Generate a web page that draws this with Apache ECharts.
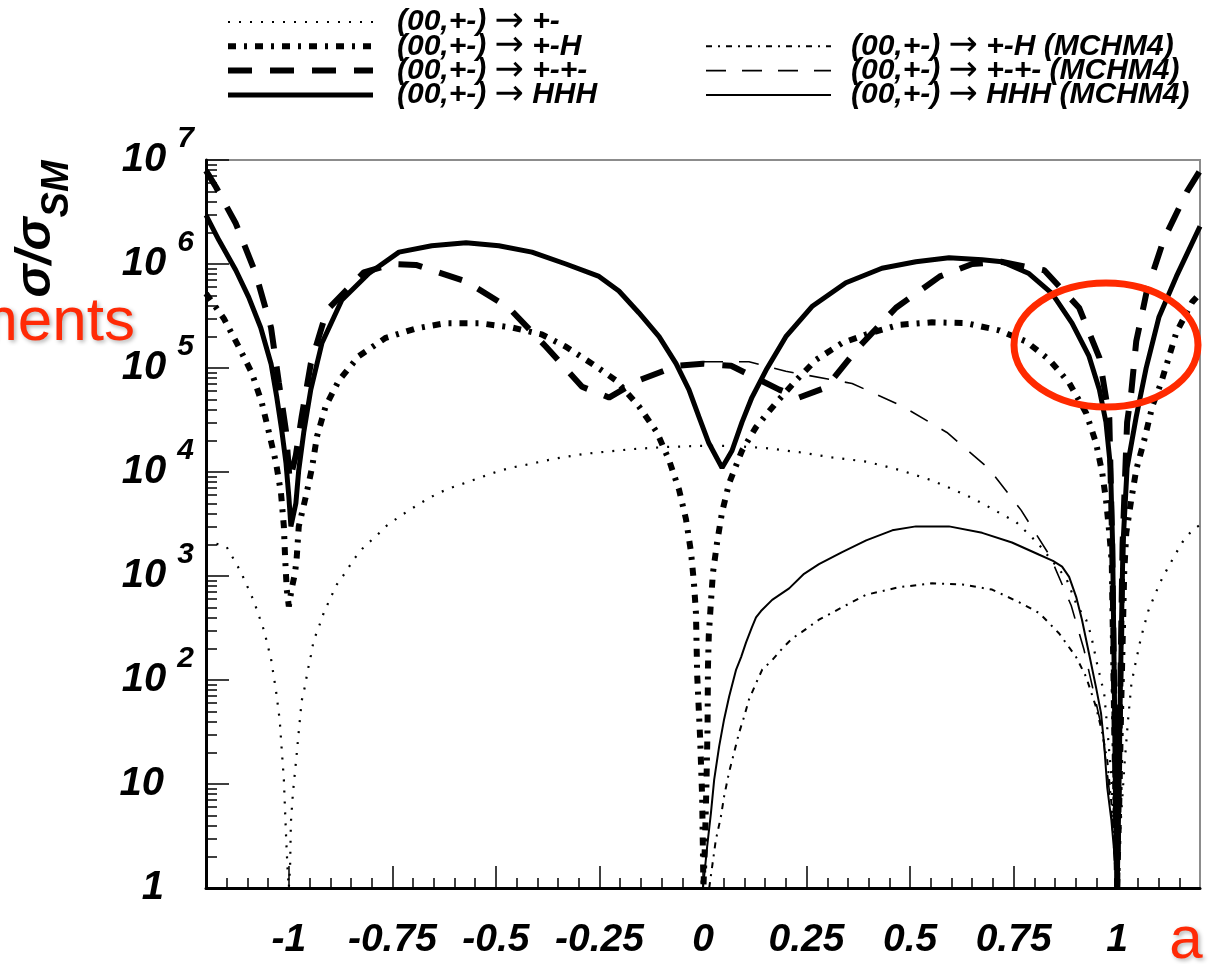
<!DOCTYPE html>
<html>
<head>
<meta charset="utf-8">
<script src="https://cdn.jsdelivr.net/npm/echarts@6/dist/echarts.min.js"></script>
<style>
  html, body { margin: 0; padding: 0; background: #fff; }
  #chart { width: 1212px; height: 964px; }
</style>
</head>
<body>
<div id="chart"></div>
<script>
// series names (legend order)
var names = [
  '(00,+-) → +-',
  '(00,+-) → +-H',
  '(00,+-) → +-+-',
  '(00,+-) → HHH',
  '(00,+-) → +-H (MCHM4)',
  '(00,+-) → +-+- (MCHM4)',
  '(00,+-) → HHH (MCHM4)'
];

// (00,+-) -> +-
var xPM = [-1.2, -1.15, -1.116, -1.085, -1.06, -1.043, -1.031, -1.022, -1.017, -1.012, -1.009, -1.006, -1.003, -1.0,
  -0.997, -0.995, -0.99, -0.983, -0.976, -0.969, -0.961, -0.955, -0.947, -0.94, -0.928, -0.915, -0.899, -0.884,
  -0.862, -0.843, -0.819, -0.79, -0.766, -0.734, -0.705, -0.669, -0.638, -0.606, -0.572, -0.536, -0.5, -0.464,
  -0.428, -0.355, -0.283, -0.21, -0.171, -0.089, -0.01, 0.07, 0.152, 0.232, 0.312, 0.394, 0.473, 0.553, 0.635,
  0.674, 0.756, 0.807, 0.877, 0.903, 0.925, 0.937, 0.952, 0.961, 0.969, 0.976, 0.985, 0.993, 1.0, 1.008, 1.018,
  1.026, 1.034, 1.041, 1.048, 1.056, 1.065, 1.075, 1.089, 1.104, 1.121, 1.138, 1.157, 1.181, 1.2];
var yPM = [2.2e3, 1.9e3, 1.1e3, 5.8e2, 3.0e2, 1.6e2, 79, 41, 21, 11, 5.4, 2.7, 1.5, 1.0,
  1.6, 4.3, 8.3, 16, 32, 63, 87, 120, 170, 240, 320, 450, 620, 830,
  1.1e3, 1.45e3, 1.9e3, 2.4e3, 3.0e3, 3.7e3, 4.4e3, 5.4e3, 6.3e3, 7.1e3, 7.9e3, 8.9e3, 1.0e4, 1.1e4,
  1.17e4, 1.35e4, 1.5e4, 1.6e4, 1.66e4, 1.74e4, 1.78e4, 1.78e4, 1.7e4, 1.55e4, 1.38e4, 1.26e4, 1.05e4, 8.3e3, 6.0e3,
  5.0e3, 3.3e3, 2.1e3, 950, 520, 380, 270, 140, 100, 72, 35, 13, 3.2, 1.0, 4, 16,
  40, 89, 126, 170, 240, 330, 460, 630, 870, 1.17e3, 1.55e3, 2.1e3, 2.75e3, 3.1e3];

// (00,+-) -> +-H
var xPMH = [-1.2, -1.157, -1.121, -1.089, -1.065, -1.048, -1.031, -1.019, -1.012, -1.009, -1.005, -1.0,
  -0.993, -0.985, -0.981, -0.976, -0.959, -0.944, -0.932, -0.911, -0.879, -0.831, -0.766, -0.693, -0.621,
  -0.541, -0.461, -0.389, -0.331, -0.268, -0.21, -0.155, -0.111, -0.082, -0.058, -0.041, -0.029, -0.022,
  -0.017, -0.014, -0.007, -0.002, 0.001, 0.004, 0.008, 0.011, 0.012, 0.014, 0.019, 0.024, 0.034, 0.046,
  0.063, 0.094, 0.128, 0.176, 0.225, 0.273, 0.336, 0.394, 0.473, 0.553, 0.635, 0.715, 0.78, 0.836, 0.884,
  0.925, 0.949, 0.964, 0.973, 0.981, 0.987, 0.992, 0.996, 1.0, 1.005, 1.01, 1.017, 1.022, 1.034, 1.046,
  1.065, 1.085, 1.106, 1.143, 1.181, 1.2];
var yPMH = [5.2e5, 3.0e5, 1.6e5, 8.9e4, 4.6e4, 2.4e4, 1.23e4, 6.3e3, 3.0e3, 1.5e3, 740, 510,
  760, 1.07e3, 1.5e3, 3.0e3, 5.8e3, 1.1e4, 2.2e4, 4.3e4, 7.6e4, 1.3e5, 1.95e5, 2.4e5, 2.7e5,
  2.7e5, 2.45e5, 2.1e5, 1.6e5, 1.1e5, 7.6e4, 4.3e4, 2.4e4, 1.3e4, 6.8e3, 3.5e3, 1.7e3, 870,
  440, 110, 28, 7.4, 1.0, 2.2, 8.7, 35, 135, 270, 550, 1.07e3, 2.1e3, 4.1e3,
  7.8e3, 1.6e4, 2.7e4, 4.6e4, 7.6e4, 1.2e5, 1.74e5, 2.1e5, 2.6e5, 2.75e5, 2.7e5, 2.3e5, 1.8e5, 1.2e5, 7.2e4,
  3.7e4, 1.9e4, 9.8e3, 5.4e3, 2.6e3, 1.35e3, 63, 6.3, 1.0, 6.3, 63, 1.07e3, 2.6e3, 5.4e3, 1.05e4,
  2.0e4, 4.3e4, 7.2e4, 2.2e5, 4.3e5, 5.2e5];

// (00,+-) -> +-+-
var xPMPM = [-1.2, -1.176, -1.128, -1.08, -1.043, -1.024, -1.007, -0.998, -0.983, -0.969, -0.947, -0.908,
  -0.819, -0.75, -0.693, -0.572, -0.469, -0.379, -0.292, -0.227, -0.155, -0.063, 0.0, 0.068, 0.184, 0.232,
  0.297, 0.377, 0.466, 0.572, 0.65, 0.72, 0.824, 0.908, 0.957, 0.981, 0.988, 0.994, 1.0, 1.006, 1.013,
  1.024, 1.034, 1.046, 1.072, 1.113, 1.169, 1.2];
var yPMPM = [7.9e6, 5.5e6, 2.45e6, 8.1e5, 2.45e5, 7.2e4, 2.5e4, 8.3e3, 1.45e4, 3.4e4, 1.1e5, 3.6e5,
  8.3e5, 1.0e6, 9.8e5, 6.8e5, 3.8e5, 1.6e5, 6.6e4, 5.2e4, 7.6e4, 1.05e5, 1.1e5, 1.05e5, 6.2e4, 5.2e4,
  6.5e4, 1.6e5, 3.8e5, 7.6e5, 1.0e6, 1.05e6, 8.7e5, 3.8e5, 1.26e5, 3.3e4, 2.0e3, 32, 1.0, 32, 2.0e3,
  3.0e4, 5.8e4, 1.8e5, 5.6e5, 1.74e6, 5.0e6, 7.9e6];

// (00,+-) -> HHH
var xHHH = [-1.2, -1.169, -1.128, -1.097, -1.068, -1.043, -1.029, -1.017, -1.007, -1.0, -0.995, -0.983,
  -0.976, -0.964, -0.947, -0.92, -0.872, -0.807, -0.734, -0.655, -0.572, -0.493, -0.413, -0.331, -0.251,
  -0.203, -0.155, -0.106, -0.065, -0.034, -0.01, 0.014, 0.046, 0.07, 0.094, 0.118, 0.152, 0.2, 0.263,
  0.345, 0.432, 0.514, 0.594, 0.674, 0.722, 0.787, 0.843, 0.891, 0.932, 0.957, 0.973, 0.984, 0.989,
  0.993, 0.996, 1.0, 1.004, 1.008, 1.014, 1.024, 1.046, 1.07, 1.101, 1.143, 1.2];
var yHHH = [2.95e6, 1.7e6, 8.7e5, 4.8e5, 2.45e5, 1.1e5, 5.2e4, 2.5e4, 1.23e4, 5.8e3, 3.0e3, 5.0e3,
  1.05e4, 2.4e4, 6.2e4, 1.74e5, 4.5e5, 8.1e5, 1.3e6, 1.5e6, 1.6e6, 1.5e6, 1.3e6, 1.0e6, 7.6e5,
  5.5e5, 3.4e5, 2.0e5, 1.1e5, 6.2e4, 3.4e4, 1.9e4, 1.1e4, 1.6e4, 3.0e4, 5.2e4, 9.5e4, 2.0e5, 3.9e5,
  6.6e5, 9.1e5, 1.05e6, 1.15e6, 1.1e6, 1.05e6, 8.1e5, 5.2e5, 2.7e5, 1.3e5, 6.2e4, 3.0e4, 1.1e4, 2.0e3,
  100, 7, 1.0, 7, 100, 2.0e3, 1.1e4, 3.4e4, 1.0e5, 3.1e5, 7.6e5, 2.3e6];

// (00,+-) -> +-H (MCHM4)
var xPMH4 = [0.015, 0.022, 0.031, 0.043, 0.051, 0.063, 0.075, 0.087, 0.099, 0.111, 0.128, 0.143, 0.167,
  0.191, 0.215, 0.239, 0.28, 0.336, 0.394, 0.473, 0.553, 0.626, 0.698, 0.763, 0.812, 0.86, 0.901, 0.925,
  0.949, 0.964, 0.976, 0.99, 0.998];
var yPMH4 = [1.0, 1.6, 2.9, 4.8, 7.6, 13, 20, 31, 44, 65, 93, 126, 155,
  200, 250, 290, 380, 500, 660, 780, 850, 830, 740, 560, 440, 280, 166, 107,
  55, 31, 17, 4.5, 1.0];

// (00,+-) -> +-+- (MCHM4)
var xPMPM4 = [0.0, 0.111, 0.2, 0.36, 0.481, 0.589, 0.691, 0.768, 0.838, 0.889, 0.92, 0.964, 0.985, 0.998];
var yPMPM4 = [1.15e5, 1.15e5, 9.3e4, 7.1e4, 4.3e4, 2.4e4, 1.07e4, 4.3e3, 1.55e3, 520, 195, 33, 6.3, 1.0];

// (00,+-) -> HHH (MCHM4)
var xHHH4 = [0.0, 0.01, 0.019, 0.027, 0.039, 0.051, 0.063, 0.08, 0.092, 0.104, 0.118, 0.128, 0.14, 0.167,
  0.208, 0.244, 0.28, 0.336, 0.394, 0.457, 0.514, 0.594, 0.674, 0.746, 0.812, 0.845, 0.867, 0.884, 0.901,
  0.915, 0.932, 0.949, 0.961, 0.969, 0.976, 0.986, 0.993, 1.0];
var yHHH4 = [1.0, 2.5, 5.2, 11, 23, 42, 69, 126, 166, 230, 320, 400, 460, 590,
  760, 1.05e3, 1.3e3, 1.7e3, 2.2e3, 2.75e3, 3.0e3, 3.0e3, 2.6e3, 2.1e3, 1.6e3, 1.4e3, 1.23e3, 980, 630,
  380, 180, 85, 48, 23, 9.3, 4.5, 2.2, 1.0];

// axis ticks
var xLabels = [-1, -0.75, -0.5, -0.25, 0, 0.25, 0.5, 0.75, 1];
var yMajor = [1, 10, 100, 1e3, 1e4, 1e5, 1e6, 1e7];

var xMinor = [];
for (var i = -23; i <= 23; i++) xMinor.push(Math.round(i * 5) / 100);
var yMinor = [];
for (var k = 0; k < 7; k++) {
  for (var m = 2; m <= 9; m++) yMinor.push(m * Math.pow(10, k));
}

function zip(xs, ys) {
  return xs.map(function (x, i) { return [x, ys[i]]; });
}

var seriesX = [xPM, xPMH, xPMPM, xHHH, xPMH4, xPMPM4, xHHH4];
var seriesY = [yPM, yPMH, yPMPM, yHHH, yPMH4, yPMPM4, yHHH4];
var styles = [
  { width: 2.2, type: [2, 9] },
  { width: 6, type: [8, 8, 3, 8] },
  { width: 6, type: [24, 18] },
  { width: 5, type: 'solid' },
  { width: 2, type: [6, 6, 2, 6] },
  { width: 1.6, type: [20, 16] },
  { width: 2, type: 'solid' }
];

var FONT = 'Liberation Sans';

var chart = echarts.init(document.getElementById('chart'), null, { renderer: 'canvas' });

var series = names.map(function (n, i) {
  return {
    name: n,
    type: 'line',
    symbol: 'none',
    clip: true,
    data: zip(seriesX[i], seriesY[i]),
    lineStyle: { color: '#000', width: styles[i].width, type: styles[i].type, cap: 'butt' },
    itemStyle: { color: '#000' },
    z: 3
  };
});

function legendItem(n, i) {
  return {
    name: n,
    lineStyle: { width: styles[i].width, type: styles[i].type, color: '#000' },
    itemStyle: { color: 'rgba(0,0,0,0)', borderWidth: 0, opacity: 0 }
  };
}

function legendLabel(n) {
  var parts = n.split(' → ');
  return '{t|' + parts[0] + ' }{a|→}{t| ' + parts[1] + '}';
}

var legendRich = {
  t: { fontFamily: FONT, fontWeight: 'bold', fontStyle: 'italic', fontSize: 30, color: '#000', lineHeight: 24 },
  a: { fontFamily: 'DejaVu Sans', fontWeight: 'normal', fontSize: 35, color: '#000', lineHeight: 24 }
};

var option = {
  animation: false,
  backgroundColor: '#fff',
  grid: {
    left: 206, right: 12, top: 160, bottom: 76,
    show: true, borderColor: '#8c8c8c', borderWidth: 2
  },
  legend: [{
    orient: 'vertical', left: 225, top: 4.5, padding: 0, itemGap: -10.7,
    itemWidth: 145, itemHeight: 14, selectedMode: false,
    data: names.slice(0, 4).map(function (n, i) { return legendItem(n, i); }),
    formatter: legendLabel,
    textStyle: { padding: [0, 0, 0, 19], lineHeight: 24, rich: legendRich }
  }, {
    orient: 'vertical', left: 705, top: 28.8, padding: 0, itemGap: -10.7,
    itemWidth: 125, itemHeight: 14, selectedMode: false,
    data: names.slice(4).map(function (n, i) { return legendItem(n, i + 4); }),
    formatter: legendLabel,
    textStyle: { padding: [0, 0, 0, 15], lineHeight: 24, rich: legendRich }
  }],
  xAxis: [{
    type: 'value', min: -1.2, max: 1.2,
    axisLine: { show: true, onZero: false, lineStyle: { color: '#000', width: 3 } },
    axisTick: { show: true, inside: true, length: 22, customValues: xLabels, lineStyle: { color: '#000', width: 1.5 } },
    splitLine: { show: false },
    axisLabel: {
      customValues: xLabels, margin: 33,
      fontFamily: FONT, fontWeight: 'bold', fontStyle: 'italic', fontSize: 39, color: '#000',
      formatter: function (v) { return String(v); }
    }
  }, {
    type: 'value', min: -1.2, max: 1.2, position: 'bottom',
    axisLine: { show: false, onZero: false },
    axisTick: { show: true, inside: true, length: 10, customValues: xMinor, lineStyle: { color: '#000', width: 1.5 } },
    axisLabel: { show: false },
    splitLine: { show: false }
  }],
  yAxis: [{
    type: 'log', logBase: 10, min: 1, max: 1e7, position: 'left',
    axisLine: { show: true, onZero: false, lineStyle: { color: '#000', width: 3 } },
    axisTick: { show: true, inside: true, length: 23, customValues: yMajor, lineStyle: { color: '#000', width: 1.5 } },
    splitLine: { show: false },
    axisLabel: {
      customValues: yMajor, margin: 12,
      formatter: function (v) {
        var e = Math.round(Math.log10(v));
        if (e < 2) return '{p|' + (e === 0 ? '1' : '10') + '}';
        return '{b|10}{s|' + e + '}';
      },
      rich: {
        b: { fontFamily: FONT, fontWeight: 'bold', fontStyle: 'italic', fontSize: 40, color: '#000', lineHeight: 72 },
        p: { fontFamily: FONT, fontWeight: 'bold', fontStyle: 'italic', fontSize: 40, color: '#000', lineHeight: 72, padding: [0, 30, 0, 0] },
        s: { fontFamily: FONT, fontWeight: 'bold', fontStyle: 'italic', fontSize: 30, color: '#000', lineHeight: 34, verticalAlign: 'top', padding: [0, 0, 0, 11] }
      }
    }
  }, {
    type: 'log', logBase: 10, min: 1, max: 1e7, position: 'left',
    axisLine: { show: false, onZero: false },
    axisTick: { show: true, inside: true, length: 11, customValues: yMinor, lineStyle: { color: '#000', width: 1.5 } },
    axisLabel: { show: false },
    splitLine: { show: false }
  }],
  graphic: [{
    type: 'text', x: 36, y: 229, rotation: Math.PI / 2,
    style: {
      text: '{s|σ/σ}{sub|SM}', align: 'center', verticalAlign: 'middle',
      rich: {
        s: { fontFamily: FONT, fontWeight: 'bold', fontStyle: 'italic', fontSize: 50, fill: '#000', lineHeight: 82 },
        sub: { fontFamily: FONT, fontWeight: 'bold', fontStyle: 'italic', fontSize: 38, fill: '#000', lineHeight: 38, verticalAlign: 'bottom' }
      }
    }
  }, {
    type: 'text', x: 135, y: 323, z: 50,
    style: {
      text: 'ments', align: 'right', verticalAlign: 'middle',
      fontFamily: FONT, fontSize: 62, fill: '#ff2a06',
      textShadowColor: 'rgba(0,0,0,0.3)', textShadowBlur: 4, textShadowOffsetX: 2, textShadowOffsetY: 2
    }
  }, {
    type: 'text', x: 1186, y: 941, z: 50,
    style: {
      text: 'a', align: 'center', verticalAlign: 'middle',
      fontFamily: FONT, fontSize: 60, fill: '#ff2a06',
      textShadowColor: 'rgba(0,0,0,0.3)', textShadowBlur: 4, textShadowOffsetX: 2, textShadowOffsetY: 2
    }
  }, {
    type: 'ellipse', z: 60,
    shape: { cx: 1106, cy: 345, rx: 92, ry: 62 },
    style: { fill: 'none', stroke: '#ff2a00', lineWidth: 7 }
  }],
  series: series
};

chart.setOption(option);
</script>
</body>
</html>
